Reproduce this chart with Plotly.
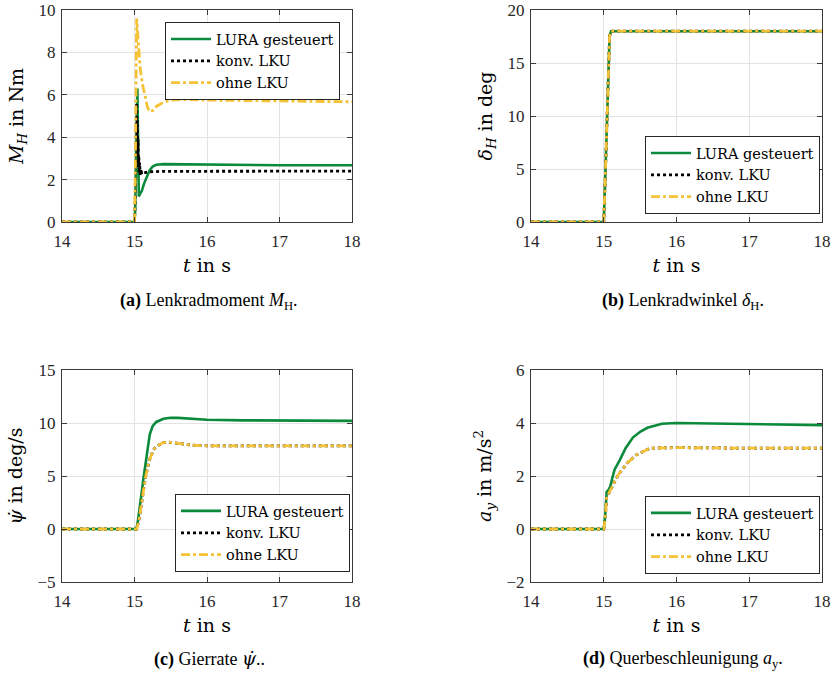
import plotly.graph_objects as go

# ---------------- data ----------------
series_names = ["LURA gesteuert", "konv. LKU", "ohne LKU"]

# (a) Lenkradmoment M_H in Nm
t_a_lura = [14, 15.0, 15.01, 15.02, 15.03, 15.04, 15.05, 15.06, 15.08, 15.1, 15.13, 15.17, 15.21, 15.25, 15.3, 15.4, 15.6, 16, 17, 18]
m_a_lura = [0, 0, 0.6, 2.5, 4.8, 6.3, 3.5, 1.2, 1.35, 1.45, 1.8, 2.15, 2.45, 2.62, 2.7, 2.73, 2.72, 2.7, 2.68, 2.68]
t_a_konv = [14, 15.0, 15.01, 15.02, 15.03, 15.035, 15.04, 15.045, 15.05, 15.055, 15.06, 15.065, 15.07, 15.08, 15.09, 15.1, 15.12, 15.15, 15.2, 15.4, 16, 17, 18]
m_a_konv = [0, 0, 1.0, 3.5, 5.6, 4.0, 4.8, 3.2, 3.9, 2.6, 3.1, 2.3, 2.8, 2.2, 2.5, 2.25, 2.3, 2.33, 2.37, 2.39, 2.4, 2.4, 2.4]
t_a_ohne = [14, 15.0, 15.01, 15.02, 15.03, 15.05, 15.08, 15.11, 15.14, 15.18, 15.21, 15.25, 15.3, 15.4, 15.5, 15.7, 16, 17, 18]
m_a_ohne = [0, 0, 2.0, 6.0, 9.6, 8.6, 7.2, 6.5, 6.0, 5.4, 5.2, 5.25, 5.45, 5.65, 5.75, 5.78, 5.75, 5.7, 5.67]

# (b) Lenkradwinkel delta_H in deg (all three identical)
t_b = [14, 15.0, 15.02, 15.05, 15.07, 15.08, 15.1, 16, 17, 18]
d_b = [0, 0, 4.0, 11.0, 15.8, 17.5, 18.0, 18.0, 18.0, 18.0]

# (c) Gierrate in deg/s
t_c_lura = [14, 15.02, 15.04, 15.06, 15.08, 15.1, 15.12, 15.15, 15.18, 15.21, 15.25, 15.3, 15.4, 15.5, 15.6, 15.8, 16, 16.5, 17, 18]
r_c_lura = [0, 0, 0.4, 1.3, 2.4, 3.5, 4.6, 6.2, 7.7, 8.9, 9.7, 10.1, 10.4, 10.5, 10.48, 10.38, 10.3, 10.25, 10.22, 10.2]
t_c_konv = [14, 15.03, 15.06, 15.1, 15.12, 15.15, 15.2, 15.26, 15.3, 15.4, 15.47, 15.6, 15.8, 16, 17, 18]
r_c_konv = [0, 0, 0.8, 2.5, 3.4, 4.8, 6.4, 7.45, 7.8, 8.15, 8.2, 8.1, 7.9, 7.85, 7.85, 7.85]
r_c_ohne = [0, 0, 0.8, 2.5, 3.4, 4.8, 6.4, 7.45, 7.8, 8.15, 8.2, 8.1, 7.9, 7.85, 7.85, 7.85]

# (d) Querbeschleunigung a_y in m/s^2
t_d_lura = [14, 15.0, 15.02, 15.04, 15.07, 15.09, 15.12, 15.15, 15.22, 15.3, 15.4, 15.5, 15.6, 15.8, 16, 16.5, 17, 18]
a_d_lura = [0, 0, 0.5, 1.4, 1.5, 1.6, 1.95, 2.25, 2.6, 3.05, 3.45, 3.67, 3.82, 3.97, 4.0, 3.98, 3.95, 3.92]
t_d_konv = [14, 15.0, 15.02, 15.04, 15.07, 15.1, 15.12, 15.2, 15.32, 15.45, 15.64, 15.8, 16, 17, 18]
a_d_konv = [0, 0, 0.4, 1.2, 1.35, 1.5, 1.6, 2.05, 2.48, 2.8, 3.05, 3.07, 3.07, 3.05, 3.05]
a_d_ohne = [0, 0, 0.4, 1.2, 1.35, 1.5, 1.6, 2.05, 2.48, 2.8, 3.05, 3.07, 3.07, 3.05, 3.05]

x_ticks = [14, 15, 16, 17, 18]

# ---------------- styling ----------------
GREEN = "#0b8a3c"
YELLOW = "#f6c235"
BLACK = "#000000"
TFONT = "Liberation Serif, Times New Roman, Times, serif"
LFONT = "DejaVu Serif, serif"
W, H = 836, 676

styles = [
    dict(color=GREEN, width=2.6, dash="solid"),
    dict(color=BLACK, width=2.8, dash="dot"),
    dict(color=YELLOW, width=2.8, dash="dashdot"),
]

fig = go.Figure()

panels = [
    ("x", "y", "legend", [(t_a_lura, m_a_lura), (t_a_konv, m_a_konv), (t_a_ohne, m_a_ohne)]),
    ("x2", "y2", "legend2", [(t_b, d_b), (t_b, d_b), (t_b, d_b)]),
    ("x3", "y3", "legend3", [(t_c_lura, r_c_lura), (t_c_konv, r_c_konv), (t_c_konv, r_c_ohne)]),
    ("x4", "y4", "legend4", [(t_d_lura, a_d_lura), (t_d_konv, a_d_konv), (t_d_konv, a_d_ohne)]),
]
for xa, ya, lg, data in panels:
    for (tx, vy), name, st in zip(data, series_names, styles):
        fig.add_trace(go.Scatter(x=tx, y=vy, mode="lines", name=name, line=st,
                                 xaxis=xa, yaxis=ya, legend=lg))

def px_x(p):
    return p / W

def px_y(p):
    return 1 - p / H

ax_common = dict(
    showline=True, linecolor="#3a3a3a", linewidth=1, mirror="ticks",
    ticks="inside", ticklen=5, tickcolor="#3a3a3a",
    showgrid=True, gridcolor="#e3e3e3", gridwidth=1, zeroline=False,
    tickfont=dict(family=TFONT, size=17, color="#262626"),
    automargin=False, ticklabeloverflow="allow",
)

xdom_l = [px_x(62), px_x(352)]
xdom_r = [px_x(531), px_x(822)]
ydom_t = [px_y(222), px_y(10)]
ydom_b = [px_y(582), px_y(370)]

xtitle = dict(text="<i>t</i> in s", font=dict(family=LFONT, size=19, color="#000"), standoff=8)

def xax(dom, anchor):
    return dict(ax_common, domain=dom, anchor=anchor, range=[14, 18], tickvals=x_ticks,
                title=xtitle, ticklabelstandoff=4)

def yax(dom, anchor, rng, dtick, title):
    return dict(ax_common, domain=dom, anchor=anchor, range=rng, dtick=dtick, ticklabelstandoff=2,
                title=dict(text=title, font=dict(family=LFONT, size=19, color="#000"), standoff=9))

leg_common = dict(
    bgcolor="white", bordercolor="#262626", borderwidth=1,
    font=dict(family=LFONT, size=14.5, color="#000"),
    xanchor="left", yanchor="top", tracegroupgap=0, itemwidth=40,
)

fig.update_layout(
    width=W, height=H, margin=dict(l=0, r=0, t=0, b=0, autoexpand=False),
    paper_bgcolor="white", plot_bgcolor="white",
    showlegend=True,
    xaxis=xax(xdom_l, "y"),
    yaxis=yax(ydom_t, "x", [0, 10], 2, "<i>M</i><sub><i>H</i></sub> in Nm"),
    xaxis2=xax(xdom_r, "y2"),
    yaxis2=yax(ydom_t, "x2", [0, 20], 5, "<i>δ</i><sub><i>H</i></sub> in deg"),
    xaxis3=xax(xdom_l, "y3"),
    yaxis3=yax(ydom_b, "x3", [-5, 15], 5, "<i>ψ̇</i> in deg/s"),
    xaxis4=xax(xdom_r, "y4"),
    yaxis4=yax(ydom_b, "x4", [-2, 6], 2, "<i>a</i><sub><i>y</i></sub> in m/s<sup>2</sup>"),
    legend=dict(leg_common, x=px_x(165), y=px_y(22)),
    legend2=dict(leg_common, x=px_x(645), y=px_y(136)),
    legend3=dict(leg_common, x=px_x(175), y=px_y(494)),
    legend4=dict(leg_common, x=px_x(645), y=px_y(496)),
)

captions = [
    ("<b>(a)</b> Lenkradmoment <i>M</i><sub>H</sub>.", 209, 301),
    ("<b>(b)</b> Lenkradwinkel <i>δ</i><sub>H</sub>.", 683, 301),
    ("<b>(c)</b> Gierrate <span style=\"font-family:DejaVu Serif\"><i>ψ̇</i></span>..", 209, 659),
    ("<b>(d)</b> Querbeschleunigung <i>a</i><sub>y</sub>.", 683, 659),
]
for txt, cx, cy in captions:
    fig.add_annotation(text=txt, x=px_x(cx), y=px_y(cy), xref="paper", yref="paper",
                       showarrow=False, xanchor="center", yanchor="middle",
                       font=dict(family=TFONT, size=18, color="#000"))

fig.write_html("out.html", config={"displayModeBar": False},
               post_script="document.body.style.margin='0';document.body.style.overflow='hidden';")
